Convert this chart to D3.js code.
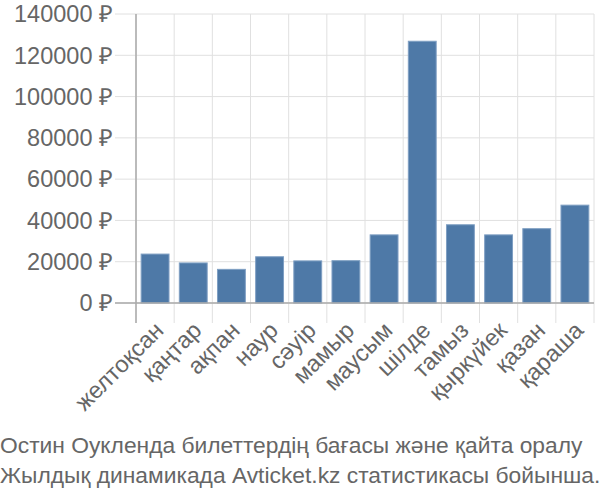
<!DOCTYPE html>
<html><head><meta charset="utf-8">
<script src="https://cdn.jsdelivr.net/npm/d3@7"></script>
<style>body{margin:0;background:#fff}svg{display:block}text{font-family:"Liberation Sans",Arial,sans-serif}</style>
</head><body>
<script>
const months = ["желтоқсан","қаңтар","ақпан","наур","сәуір","мамыр","маусым","шілде","тамыз","қыркүйек","қазан","қараша"];
const prices = [23700, 19400, 16300, 22400, 20400, 20500, 33000, 126800, 37900, 33000, 36000, 47400];
const yTicks = [0, 20000, 40000, 60000, 80000, 100000, 120000, 140000];
const titleLines = ["Остин Оукленда билеттердің бағасы және қайта оралу", "Жылдық динамикада Avticket.kz статистикасы бойынша."];

const W = 600, H = 500;
const FS = 23.5;
const m = {left: 136, right: 6, top: 14, bottom: 197};
const svg = d3.select("body").append("svg").attr("width", W).attr("height", H);
const x = d3.scaleBand().domain(months).range([m.left, W - m.right]).paddingInner(0.27).paddingOuter(0.135);
const xb = d3.scaleBand().domain(months).range([m.left, W - m.right]);
const y = d3.scaleLinear().domain([0, 140000]).range([H - m.bottom, m.top]);
const y0 = y(0);

// horizontal grid
svg.append("g").selectAll("line").data(yTicks).join("line")
  .attr("x1", m.left - 21).attr("x2", W - m.right)
  .attr("y1", d => y(d)).attr("y2", d => y(d))
  .attr("stroke", "#e0e0e0").attr("stroke-width", 1);
// vertical grid
const vx = months.map(d => xb(d)).concat([W - m.right]);
svg.append("g").selectAll("line").data(vx).join("line")
  .attr("x1", d => d).attr("x2", d => d)
  .attr("y1", m.top).attr("y2", y0 + 20)
  .attr("stroke", "#e0e0e0").attr("stroke-width", 1);

// bars
svg.append("g").selectAll("rect").data(prices).join("rect")
  .attr("x", (d, i) => x(months[i]))
  .attr("width", x.bandwidth())
  .attr("y", d => y(d))
  .attr("height", d => y0 - y(d))
  .attr("fill", "#4e79a7")
  .attr("stroke", "#7f9fc3").attr("stroke-width", 1);

// axes lines
svg.append("line").attr("x1", m.left).attr("x2", m.left).attr("y1", m.top).attr("y2", y0 + 20)
  .attr("stroke", "#aaa").attr("stroke-width", 1.5);
svg.append("line").attr("x1", m.left - 21).attr("x2", W - m.right).attr("y1", y0).attr("y2", y0)
  .attr("stroke", "#aaa").attr("stroke-width", 1.5);

// y labels
svg.append("g").selectAll("text").data(yTicks).join("text")
  .attr("x", m.left - 23).attr("y", d => y(d)).attr("dy", "0.35em")
  .attr("text-anchor", "end").attr("font-size", FS).attr("fill", "#666")
  .text(d => d + " ₽");

// x labels
svg.append("g").selectAll("text").data(months).join("text")
  .attr("transform", d => `translate(${xb(d) + xb.bandwidth() / 2 + 4},${y0 + 23}) rotate(-45)`)
  .attr("text-anchor", "end").attr("dy", "0.35em").attr("font-size", FS).attr("fill", "#666")
  .text(d => d);

// title
svg.append("g").selectAll("text").data(titleLines).join("text")
  .attr("x", 0).attr("y", (d, i) => 453 + i * 30)
  .attr("font-size", 22.8).attr("fill", "#666")
  .text(d => d);
</script>
</body></html>
